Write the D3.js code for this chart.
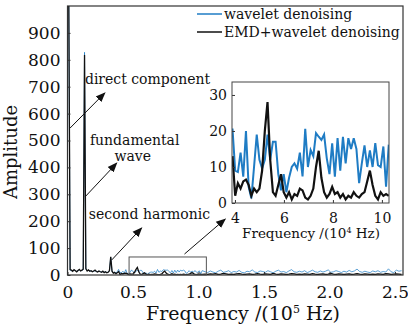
<!DOCTYPE html>
<html>
<head>
<meta charset="utf-8">
<script src="https://cdn.jsdelivr.net/npm/d3@7"></script>
<style>
  body { margin: 0; background: #fff; }
  text { font-family: "DejaVu Serif", serif; fill: #111; }
</style>
</head>
<body>
<div id="canvas"></div>
<script>
// amplitude spectra, main plot, 0 - 0.38 (x10^5 Hz), step 0.01
var lowBlack = [1000,1000,20,18,14,20,16,12,17,21, 15,18,22,818,24,15,19,14,16,12,
                15,18,13,11,15,12,10,14,9,12, 8,10,16,68,14,7,9,5,8];
var lowBlue  = [1000,1000,18,16,15,18,17,13,15,19, 16,17,20,828,22,16,17,15,15,13,
                14,16,14,12,14,13,11,13,10,12, 9,11,15,65,13,9,11,8,12];

// zoomed part, 3.9 - 10.28 (x10^4 Hz), step 0.11
var insetBlue  = [20.7,9,8.6,14,7.3,20,4.5,1.3,10,19, 12,9.6,12,19,12,17,17,8,3.5,8,
                  3,7,10,11,9.5,14,7.4,20.6,10,14.7, 13,19.4,18.4,17.5,19,12.4,8,16.6,7.3,18,
                  9,18.4,11,18,15,18,15,5.5,11,16, 10,14.6,10,16.6,10.5,10,15.7,4.5,16.2];
var insetBlack = [13,2,5.5,4,6,6.5,5,2,4,3, 4,9,20,28,12,3,2,5,8,3,
                  1.5,3,1,2.5,2,4,3.5,1.5,1,2, 4,10,14.5,7,3,1.5,2.5,4.5,2.5,3,
                  1.5,2.5,1,2,1.5,3,2,1.5,2.5,3, 6,9,5,2,1,3,2,2.5,2];

// tail, 1.05 - 2.55 (x10^5 Hz), step 0.02
var tailBlue  = [12,9,15,11,8,14,18,10,12,16, 9,13,11,17,10,8,14,12,19,11,
                 9,15,13,10,16,12,8,14,18,11, 13,9,15,20,12,10,14,11,16,9,
                 13,18,12,10,15,11,14,19,10,12, 16,13,9,14,11,17,12,15,22,13,
                 10,14,11,9,15,12,16,10,13,11, 23,12,9,18,14,16];
var tailBlack = [3,2,4,3,5,2,3,6,4,2, 3,2,4,5,3,2,3,4,2,3,
                 5,3,2,4,3,2,6,3,2,4, 3,2,3,5,4,2,3,2,4,3,
                 2,5,3,2,3,4,2,3,6,3, 2,4,3,2,3,4,2,3,5,3,
                 2,4,3,2,3,2,4,3,2,5, 4,2,3,4,3,2];

var xTicks = [0,0.5,1.0,1.5,2.0,2.5];
var yTicks = [0,100,200,300,400,500,600,700,800,900];
var insetXTicks = [4,6,8,10];
var insetYTicks = [0,10,20,30];
var legendNames = ['wavelet denoising','EMD+wavelet denoising'];

var blue = '#1f7cc4', black = '#111';

var lowF = d3.range(lowBlack.length).map(function(i){ return i*0.01; });
var insetF = d3.range(insetBlue.length).map(function(i){ return 3.9 + i*0.11; });
var tailF = d3.range(tailBlue.length).map(function(i){ return 1.05 + i*0.02; });

function join(a, b, c){
  var out = [];
  lowF.forEach(function(f,i){ out.push([f, a[i]]); });
  insetF.forEach(function(f,i){ out.push([f/10, b[i]]); });
  tailF.forEach(function(f,i){ out.push([f, c[i]]); });
  return out;
}
var mainBlue = join(lowBlue, insetBlue, tailBlue);
var mainBlack = join(lowBlack, insetBlack, tailBlack);

var svg = d3.select('#canvas').append('svg')
  .attr('width', 408).attr('height', 327);

var x = d3.scaleLinear().domain([0,2.561]).range([67.5,403]);
var y = d3.scaleLinear().domain([0,1000]).range([275,6]);

svg.append('clipPath').attr('id','clipMain')
  .append('rect').attr('x',67.5).attr('y',6).attr('width',403-67.5).attr('height',275-6);

var line = d3.line().x(function(d){ return x(d[0]); }).y(function(d){ return y(d[1]); });

var plot = svg.append('g').attr('clip-path','url(#clipMain)');
plot.append('path').datum(mainBlue).attr('d',line)
  .attr('fill','none').attr('stroke',blue).attr('stroke-width',0.9).attr('opacity',0.8);
plot.append('path').datum(mainBlack).attr('d',line)
  .attr('fill','none').attr('stroke',black).attr('stroke-width',1.3);

// axes
var yAxis = svg.append('g').attr('transform','translate(67.5,0)')
  .call(d3.axisLeft(y).tickValues(yTicks).tickSizeInner(-3).tickSizeOuter(0).tickPadding(7));
var xAxis = svg.append('g').attr('transform','translate(0,275)')
  .call(d3.axisBottom(x).tickValues(xTicks).tickSizeInner(-3).tickSizeOuter(0).tickPadding(11)
    .tickFormat(function(d){ return d === 0 ? '0' : d3.format('.1f')(d); }));
[xAxis, yAxis].forEach(function(a){
  a.select('.domain').remove();
  a.selectAll('text').style('font-family','DejaVu Serif').style('font-size','17px').attr('fill','#111');
  a.selectAll('line').attr('stroke','#333');
});

svg.append('rect').attr('x',67.5).attr('y',6).attr('width',403-67.5).attr('height',275-6)
  .attr('fill','none').attr('stroke','#333').attr('stroke-width',1.2);

svg.append('text').attr('x',243).attr('y',320).attr('text-anchor','middle')
  .style('font-size','19px')
  .html('Frequency /(10<tspan dy="-7" style="font-size:11px">5</tspan><tspan dy="7"> Hz)</tspan>');
svg.append('text').attr('transform','translate(17,152) rotate(-90)').attr('text-anchor','middle')
  .style('font-size','18px').text('Amplitude');

// zoom box in main plot
var zoomBox = {x0:0.47, x1:1.06, y0:0, y1:67};
svg.append('rect').attr('x',x(zoomBox.x0)).attr('y',y(zoomBox.y1))
  .attr('width',x(zoomBox.x1)-x(zoomBox.x0)).attr('height',y(zoomBox.y0)-y(zoomBox.y1))
  .attr('fill','none').attr('stroke','#555').attr('stroke-width',1);

// arrows
svg.append('defs').append('marker').attr('id','head')
  .attr('viewBox','0 -5 10 10').attr('refX',9).attr('refY',0)
  .attr('markerUnits','userSpaceOnUse').attr('markerWidth',10).attr('markerHeight',10)
  .attr('orient','auto')
  .append('path').attr('d','M0,-4L10,0L0,4Z').attr('fill','#111');

var arrows = [
  [[0.019,546],[0.285,677]],
  [[0.133,290],[0.376,416]],
  [[0.338,56],[0.566,175]],
  [[0.893,78],[1.204,208]]
];
arrows.forEach(function(a){
  svg.append('line').attr('x1',x(a[0][0])).attr('y1',y(a[0][1]))
    .attr('x2',x(a[1][0])).attr('y2',y(a[1][1]))
    .attr('stroke','#111').attr('stroke-width',1).attr('marker-end','url(#head)');
});

var notes = [
  {t:'direct component', f:0.133, v:710, a:'start'},
  {t:'fundamental', f:0.171, v:482, a:'start'},
  {t:'wave', f:0.498, v:425, a:'middle'},
  {t:'second harmonic', f:0.163, v:208, a:'start'}
];
notes.forEach(function(n){
  svg.append('text').attr('x',x(n.f)).attr('y',y(n.v)).attr('text-anchor',n.a)
    .style('font-size','14px').text(n.t);
});

// legend
[blue, black].forEach(function(c,i){
  svg.append('line').attr('x1',197).attr('x2',222).attr('y1',14+18*i).attr('y2',14+18*i)
    .attr('stroke',c).attr('stroke-width',1.5);
  svg.append('text').attr('x',224).attr('y',19+18*i).style('font-size','14px').text(legendNames[i]);
});

// inset
var ix = d3.scaleLinear().domain([3.88,10.29]).range([232,389]);
var iy = d3.scaleLinear().domain([0,33.6]).range([203,82]);
var inset = svg.append('g');
inset.append('rect').attr('x',232).attr('y',82).attr('width',389-232).attr('height',203-82)
  .attr('fill','#fff');
inset.append('clipPath').attr('id','clipInset')
  .append('rect').attr('x',232).attr('y',82).attr('width',389-232).attr('height',203-82);
var iline = d3.line().x(function(d,i){ return ix(insetF[i]); }).y(function(d){ return iy(d); });
var ig = inset.append('g').attr('clip-path','url(#clipInset)');
ig.append('path').datum(insetBlue).attr('d',iline)
  .attr('fill','none').attr('stroke',blue).attr('stroke-width',2);
ig.append('path').datum(insetBlack).attr('d',iline)
  .attr('fill','none').attr('stroke',black).attr('stroke-width',2.2);

var iyAxis = inset.append('g').attr('transform','translate(232,0)')
  .call(d3.axisLeft(iy).tickValues(insetYTicks).tickSizeInner(-3).tickSizeOuter(0).tickPadding(5));
var ixAxis = inset.append('g').attr('transform','translate(0,203)')
  .call(d3.axisBottom(ix).tickValues(insetXTicks).tickSizeInner(-3).tickSizeOuter(0).tickPadding(10)
    .tickFormat(d3.format('d')));
[ixAxis, iyAxis].forEach(function(a){
  a.select('.domain').remove();
  a.selectAll('text').style('font-family','DejaVu Serif').style('font-size','14px').attr('fill','#111');
  a.selectAll('line').attr('stroke','#333');
});
inset.append('rect').attr('x',232).attr('y',82).attr('width',389-232).attr('height',203-82)
  .attr('fill','none').attr('stroke','#444').attr('stroke-width',1);
inset.append('text').attr('x',311).attr('y',238).attr('text-anchor','middle')
  .style('font-size','13.5px')
  .html('Frequency /(10<tspan dy="-5" style="font-size:8px">4</tspan><tspan dy="5"> Hz)</tspan>');
</script>
</body>
</html>
